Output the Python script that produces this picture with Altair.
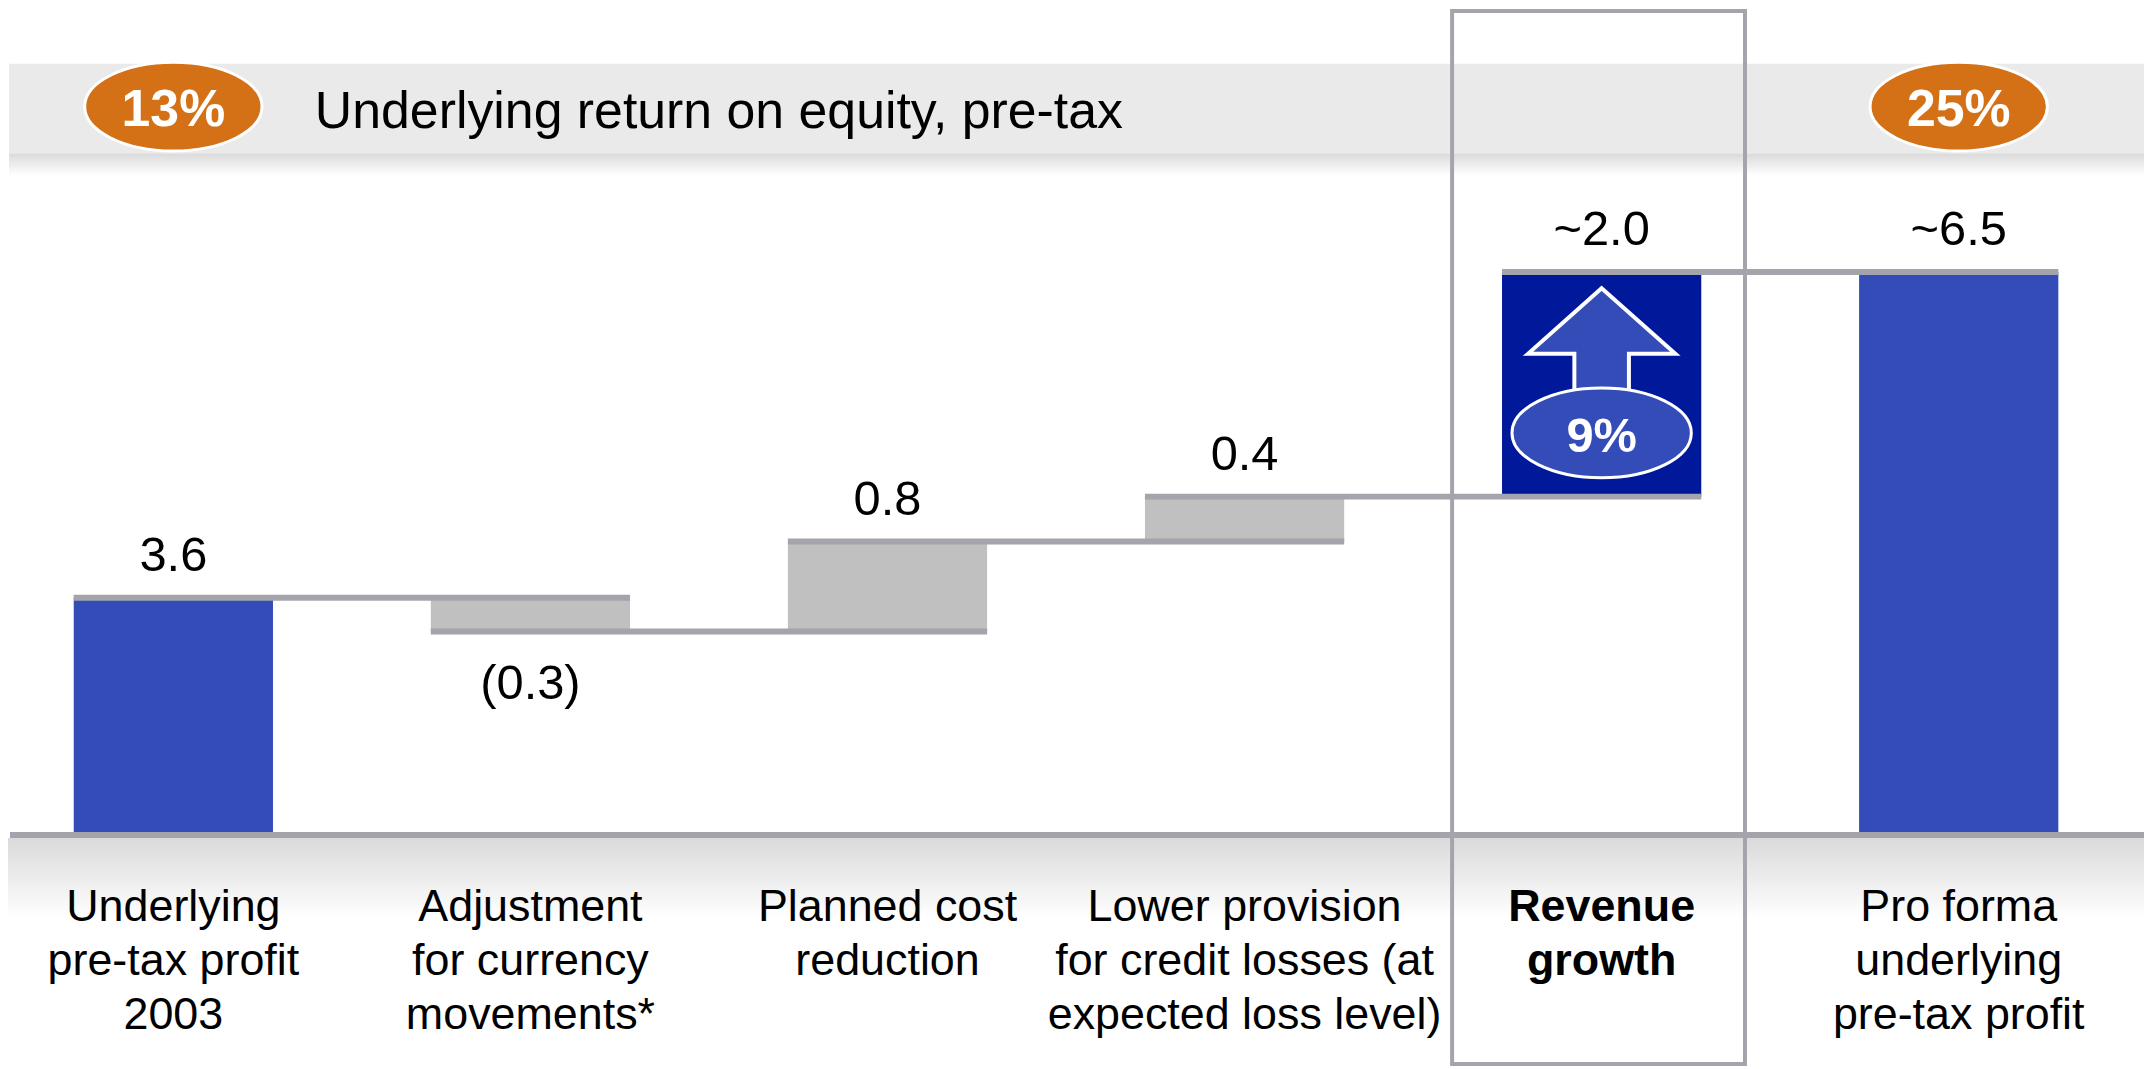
import altair as alt
import pandas as pd

# ---------------- data ----------------
CATS = [
    "Underlying|pre-tax profit|2003",
    "Adjustment|for currency|movements*",
    "Planned cost|reduction",
    "Lower provision|for credit losses (at|expected loss level)",
    "Revenue|growth",
    "Pro forma|underlying|pre-tax profit",
]
VALUES = [3.6, -0.3, 0.8, 0.4, 2.0, 6.5]
KINDS = ["total", "step", "step", "step", "growth", "total"]
VALUE_LABELS = ["3.6", "(0.3)", "0.8", "0.4", "~2.0", "~6.5"]
ROE_CATS = [CATS[0], CATS[-1]]
ROE_LABELS = ["13%", "25%"]
ROE_TITLE = "Underlying return on equity, pre-tax"
GROWTH_CAT = CATS[4]
GROWTH_RATE = "9%"

# ---------------- styles ----------------
FONT = "Liberation Sans"
BLUE = "#344CB7"
NAVY = "#00189A"
STEP_GRAY = "#C0C0C0"
LINE_GRAY = "#A4A4AC"
ORANGE = "#D47016"
BAND = "#EAEAEA"

W, H = 2124, 828
Y_MIN, Y_MAX = 1.489, 8.832

# waterfall table
rows = []
level = 0.0
for c, v, k, lab in zip(CATS, VALUES, KINDS, VALUE_LABELS):
    if k == "total":
        start, end = 0.0, v
    else:
        start, end = level, round(level + v, 4)
    level = end
    rows.append(dict(cat=c, value=v, kind=k, start=start, end=end, label=lab))
bars_df = pd.DataFrame(rows)

conn_df = pd.DataFrame(
    [dict(frm=CATS[i], to=CATS[i + 1], level=rows[i]["end"]) for i in range(len(CATS) - 1)]
)
roe_df = pd.DataFrame(dict(cat=ROE_CATS, label=ROE_LABELS))
growth_df = pd.DataFrame(dict(cat=[GROWTH_CAT], label=[GROWTH_RATE]))
one = pd.DataFrame({"a": [0]})

X_SCALE = alt.Scale(domain=CATS, paddingInner=0.442, paddingOuter=0.1841)
Y_SCALE = alt.Scale(domain=[Y_MIN, Y_MAX], nice=False, zero=False)
X_AXIS = alt.Axis(
    title=None, domain=False, ticks=False, grid=False, labelAngle=0, zindex=2,
    labelExpr="split(datum.label, '|')", labelFontSize=45, labelLineHeight=54,
    labelPadding=50, labelLimit=600, labelColor="black", labelFont=FONT,
    labelBaseline="top",
    labelFontWeight={"condition": {"test": "datum.value == 'Revenue|growth'", "value": "bold"},
                     "value": "normal"},
)


def xe(field):
    return alt.X(f"{field}:N", scale=X_SCALE, axis=X_AXIS, title=None)


ELLIPSE = "M -1 0 A 1 0.5 0 1 1 1 0 A 1 0.5 0 1 1 -1 0 Z"
ARROW = "M 0 -0.712 L 1 0.178 L 0.37 0.178 L 0.37 0.712 L -0.37 0.712 L -0.37 0.178 L -1 0.178 Z"

grad_down = alt.Gradient(
    gradient="linear",
    stops=[alt.GradientStop(color="#DADADA", offset=0), alt.GradientStop(color="#FFFFFF", offset=1)],
    x1=0, x2=0, y1=0, y2=1,
)

base1 = alt.Chart(one)

top_band = base1.mark_rect(color=BAND).encode(
    x=alt.value(1), x2=alt.value(2144), y=alt.value(54), y2=alt.value(144))
top_shadow = base1.mark_rect(color=grad_down).encode(
    x=alt.value(1), x2=alt.value(2144), y=alt.value(144), y2=alt.value(166))
bottom_shadow = base1.mark_rect(color=grad_down).encode(
    x=alt.value(0), x2=alt.value(2144), y=alt.value(831), y2=alt.value(912))
col_box = base1.mark_rect(fillOpacity=0, stroke=LINE_GRAY, strokeWidth=4).encode(
    x=alt.value(1449.5), x2=alt.value(1743.5), y=alt.value(1), y2=alt.value(1058))

bars = alt.Chart(bars_df).mark_bar(clip=True).encode(
    x=xe("cat"),
    y=alt.Y("start:Q", scale=Y_SCALE, axis=None),
    y2="end:Q",
    color=alt.Color("kind:N", scale=alt.Scale(domain=["total", "step", "growth"],
                                              range=[BLUE, STEP_GRAY, NAVY]), legend=None),
)

connectors = alt.Chart(conn_df).mark_rule(strokeWidth=6, color=LINE_GRAY).encode(
    x=alt.X("frm:N", scale=X_SCALE, axis=X_AXIS, title=None, bandPosition=0),
    x2=alt.X2("to:N", bandPosition=1),
    y=alt.Y("level:Q", scale=Y_SCALE, axis=None),
)

baseline = base1.mark_rule(strokeWidth=6, color=LINE_GRAY).encode(
    x=alt.value(2), x2=alt.value(2144), y=alt.value(828))

lab_pos = alt.Chart(bars_df).transform_filter("datum.value >= 0").mark_text(
    font=FONT, fontSize=49, color="black", baseline="alphabetic", dy=-27).encode(
    x=xe("cat"), y=alt.Y("end:Q", scale=Y_SCALE, axis=None), text="label:N")
lab_neg = alt.Chart(bars_df).transform_filter("datum.value < 0").mark_text(
    font=FONT, fontSize=49, color="black", baseline="alphabetic", dy=68).encode(
    x=xe("cat"), y=alt.Y("end:Q", scale=Y_SCALE, axis=None), text="label:N")

roe_ell = alt.Chart(roe_df).mark_point(
    shape=ELLIPSE, size=178 ** 2, filled=True, color=ORANGE, stroke="white",
    strokeWidth=3, opacity=1).encode(x=xe("cat"), y=alt.value(97))
roe_txt = alt.Chart(roe_df).mark_text(
    font=FONT, fontSize=52, fontWeight="bold", color="white", baseline="alphabetic").encode(
    x=xe("cat"), y=alt.value(116), text="label:N")
roe_title = base1.mark_text(
    font=FONT, fontSize=52, color="black", align="left", baseline="alphabetic",
    text=ROE_TITLE).encode(x=alt.value(308), y=alt.value(118))

arrow = alt.Chart(growth_df).mark_point(
    shape=ARROW, size=148 ** 2, filled=True, color=BLUE, stroke="white",
    strokeWidth=4, opacity=1).encode(x=xe("cat"), y=alt.value(332))
g_ell = alt.Chart(growth_df).mark_point(
    shape=ELLIPSE, size=180 ** 2, filled=True, color=BLUE, stroke="white",
    strokeWidth=3, opacity=1).encode(x=xe("cat"), y=alt.value(424.5))
g_txt = alt.Chart(growth_df).mark_text(
    font=FONT, fontSize=49, fontWeight="bold", color="white", baseline="alphabetic").encode(
    x=xe("cat"), y=alt.value(444), text="label:N")

chart = alt.layer(
    top_band, top_shadow, bottom_shadow, col_box, bars, connectors, baseline,
    lab_pos, lab_neg, roe_ell, roe_txt, roe_title, arrow, g_ell, g_txt,
).properties(
    width=W, height=H,
    autosize=alt.AutoSizeParams(type="none"),
    padding={"left": 0, "top": 0, "right": 20, "bottom": 233},
    background="white",
).configure_view(stroke=None)

chart.save("out.html", embed_options={"renderer": "svg", "actions": False})
